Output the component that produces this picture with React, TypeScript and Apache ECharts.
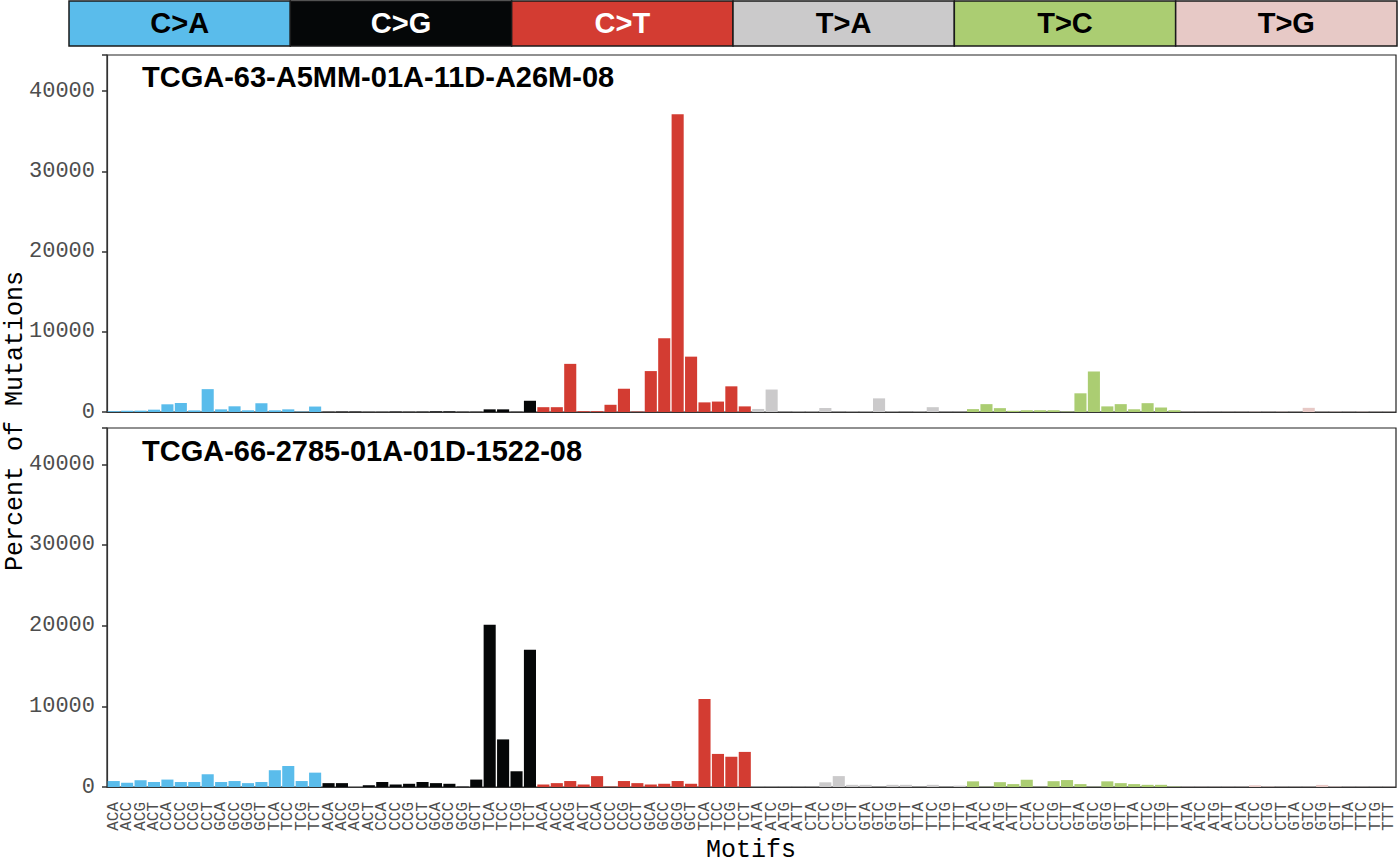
import React, { useEffect, useRef } from "react";
import * as echarts from "echarts";

// ---- categories / labels ----
const MUTATION_TYPES = ["C>A", "C>G", "C>T", "T>A", "T>C", "T>G"];
const TYPE_COLORS = ["#5ABCEB", "#050708", "#D33C32", "#CBCACB", "#ABCD72", "#E7C9C6"];
const STRIP_TEXT_COLORS = ["#000000", "#FFFFFF", "#FFFFFF", "#000000", "#000000", "#000000"];
const C_MOTIFS = ["ACA", "ACC", "ACG", "ACT", "CCA", "CCC", "CCG", "CCT", "GCA", "GCC", "GCG", "GCT", "TCA", "TCC", "TCG", "TCT"];
const T_MOTIFS = ["ATA", "ATC", "ATG", "ATT", "CTA", "CTC", "CTG", "CTT", "GTA", "GTC", "GTG", "GTT", "TTA", "TTC", "TTG", "TTT"];
const Y_TICKS = [0, 10000, 20000, 30000, 40000];

// ---- sample 1 ----
const SAMPLE1_NAME = "TCGA-63-A5MM-01A-11D-A26M-08";
const S1_CA = [100, 170, 170, 290, 960, 1120, 200, 2850, 330, 710, 210, 1080, 210, 330, 50, 680];
const S1_CG = [30, 50, 50, 20, 20, 50, 30, 40, 80, 80, 30, 30, 330, 330, 30, 1400];
const S1_CT = [600, 600, 6000, 100, 100, 900, 2900, 50, 5100, 9200, 37100, 6900, 1200, 1300, 3200, 700];
const S1_TA = [380, 2800, 20, 50, 50, 500, 20, 50, 50, 1700, 50, 20, 50, 600, 20, 20];
const S1_TC = [360, 980, 480, 150, 220, 220, 220, 50, 2330, 5050, 700, 980, 340, 1100, 560, 220];
const S1_TG = [20, 20, 20, 20, 20, 40, 20, 40, 20, 520, 20, 40, 20, 40, 20, 20];

// ---- sample 2 ----
const SAMPLE2_NAME = "TCGA-66-2785-01A-01D-1522-08";
const S2_CA = [740, 540, 840, 620, 920, 620, 620, 1580, 620, 740, 480, 620, 2080, 2600, 740, 1780];
const S2_CG = [480, 480, 0, 220, 620, 310, 400, 620, 480, 400, 50, 920, 20100, 5900, 1950, 17000];
const S2_CT = [310, 480, 740, 310, 1350, 50, 740, 480, 310, 400, 740, 400, 10900, 4100, 3750, 4350];
const S2_TA = [20, 20, 20, 20, 20, 580, 1350, 270, 270, 20, 270, 270, 20, 270, 20, 170];
const S2_TC = [700, 20, 600, 360, 900, 20, 720, 860, 360, 20, 700, 480, 360, 270, 270, 50];
const S2_TG = [20, 20, 20, 20, 20, 210, 50, 20, 20, 20, 260, 50, 20, 20, 20, 20];

const CATEGORIES = MUTATION_TYPES.flatMap((t) => (t[0] === "C" ? C_MOTIFS : T_MOTIFS));

function buildData(groups: number[][]) {
  return groups.flatMap((arr, ti) =>
    arr.map((v) => ({ value: v, itemStyle: { color: TYPE_COLORS[ti] } }))
  );
}

const MONO = "Liberation Mono";
const SANS = "Liberation Sans";

export default function App() {
  const ref = useRef<HTMLDivElement>(null);
  useEffect(() => {
    if (!ref.current) return;
    const chart = echarts.init(ref.current, null, { renderer: "svg" });

    const data1 = buildData([S1_CA, S1_CG, S1_CT, S1_TA, S1_TC, S1_TG]);
    const data2 = buildData([S2_CA, S2_CG, S2_CT, S2_TA, S2_TC, S2_TG]);

    const stripLeft = 69;
    const stripRight = 1397;
    const segW = (stripRight - stripLeft) / MUTATION_TYPES.length;

    const graphic: any[] = [];
    MUTATION_TYPES.forEach((t, i) => {
      graphic.push({
        type: "rect",
        shape: { x: stripLeft + i * segW, y: 1, width: segW, height: 45 },
        style: { fill: TYPE_COLORS[i], stroke: "#1a1a1a", lineWidth: 1.5 },
        z: 10,
      });
      graphic.push({
        type: "text",
        x: stripLeft + (i + 0.5) * segW,
        y: 23,
        style: {
          text: t,
          fill: STRIP_TEXT_COLORS[i],
          font: `bold 29px "${SANS}"`,
          align: "center",
          verticalAlign: "middle",
          textAlign: "center",
          textVerticalAlign: "middle",
        },
        z: 11,
      });
    });
    [
      { name: SAMPLE1_NAME, y: 77 },
      { name: SAMPLE2_NAME, y: 451 },
    ].forEach((s) => {
      graphic.push({
        type: "text",
        x: 142,
        y: s.y,
        style: {
          text: s.name,
          fill: "#000",
          font: `bold 29px "${SANS}"`,
          align: "left",
          verticalAlign: "middle",
          textAlign: "left",
          textVerticalAlign: "middle",
        },
        z: 11,
      });
    });
    graphic.push({
      type: "text",
      x: 15,
      y: 421,
      rotation: Math.PI / 2,
      style: {
        text: "Percent of Mutations",
        fill: "#000",
        font: `25px "${MONO}"`,
        align: "center",
        verticalAlign: "middle",
        textAlign: "center",
        textVerticalAlign: "middle",
      },
    });
    graphic.push({
      type: "text",
      x: 751,
      y: 850,
      style: {
        text: "Motifs",
        fill: "#000",
        font: `25px "${MONO}"`,
        align: "center",
        verticalAlign: "middle",
        textAlign: "center",
        textVerticalAlign: "middle",
      },
    });

    const yAxisBase = (gridIndex: number) => ({
      gridIndex,
      type: "value",
      min: 0,
      max: 44500,
      interval: 10000,
      splitLine: { show: false },
      axisLine: { show: true, lineStyle: { color: "#333", width: 1.2 } },
      axisTick: { show: true, length: 5, lineStyle: { color: "#333", width: 1.5 } },
      axisLabel: {
        formatter: (v: number) => (Y_TICKS.includes(v) ? String(v) : ""),
        fontFamily: MONO,
        fontSize: 22,
        color: "#4D4D4D",
        margin: 12,
      },
    });

    chart.setOption({
      animation: false,
      backgroundColor: "#FFFFFF",
      grid: [
        { left: 107, right: 4, top: 55, height: 357, show: true, borderColor: "#222", borderWidth: 1.2 },
        { left: 107, right: 4, top: 428, height: 359, show: true, borderColor: "#222", borderWidth: 1.2 },
      ],
      xAxis: [
        {
          gridIndex: 0,
          type: "category",
          data: CATEGORIES,
          axisLabel: { show: false },
          axisTick: { show: false },
          axisLine: { show: true, lineStyle: { color: "#333", width: 1.2 } },
        },
        {
          gridIndex: 1,
          type: "category",
          data: CATEGORIES,
          axisLabel: {
            interval: 0,
            rotate: 90,
            fontFamily: MONO,
            fontSize: 16,
            color: "#4D4D4D",
            margin: 15,
          },
          axisTick: {
            interval: 0,
            alignWithLabel: true,
            length: 6,
            lineStyle: { color: "#333", width: 2 },
          },
          axisLine: { show: true, lineStyle: { color: "#333", width: 1.2 } },
        },
      ],
      yAxis: [yAxisBase(0), yAxisBase(1)],
      series: [
        { type: "bar", xAxisIndex: 0, yAxisIndex: 0, data: data1, barCategoryGap: "10%" },
        { type: "bar", xAxisIndex: 1, yAxisIndex: 1, data: data2, barCategoryGap: "10%" },
      ],
      graphic,
    });

    return () => chart.dispose();
  }, []);

  return (
    <div
      ref={ref}
      style={{ position: "fixed", left: 0, top: 0, width: 1400, height: 865, background: "#fff" }}
    />
  );
}
